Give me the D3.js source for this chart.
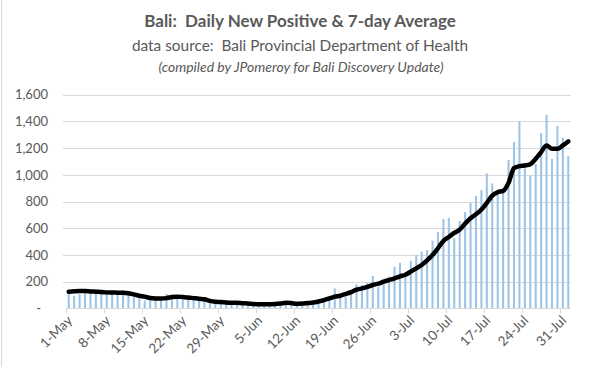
<!DOCTYPE html>
<html lang="en">
<head>
<meta charset="UTF-8">
<title>Bali daily new positive</title>
<style>
  body { margin: 0; background: #fff; }
  svg text { font-family: Lato, "Open Sans", sans-serif; fill: #595959; }
</style>
</head>
<body>
<svg id="chart" width="598" height="367"></svg>
<script src="https://d3js.org/d3.v7.min.js"></script>
<script>
// daily values 1-May .. 1-Aug (2021)
var dailyNew = [
  120, 95, 105, 140, 130, 142, 125, 110, 130, 120,
  135, 115, 105, 100, 60, 70, 80, 75, 108, 75,
  100, 90, 80, 70, 85, 60, 55, 45, 50, 40,
  45, 35, 40, 30, 45, 30, 25, 35, 30, 28,
  45, 50, 30, 35, 40, 30, 55, 60, 88, 150,
  90, 88, 130, 182, 175, 193, 243, 163, 200, 238,
  312, 342, 237, 357, 400, 425, 437, 507, 572, 669,
  676, 525, 654, 721, 788, 841, 886, 1011, 936, 860,
  886, 1111, 1246, 1402, 1049, 991, 1080, 1312, 1450, 1118,
  1366, 1278, 1141
]
var avg7 = [
  125, 128, 130, 130, 127, 125, 123, 120, 119, 118,
  117, 113, 105, 95, 88, 78, 75, 75, 77, 85,
  88, 85, 82, 77, 72, 68, 56, 50, 48, 45,
  43, 42, 39, 37, 33, 31, 31, 31, 33, 37,
  42, 40, 34, 36, 40, 44, 52, 62, 75, 88,
  95, 108, 122, 140, 150, 162, 175, 185, 200, 213,
  225, 240, 252, 275, 300, 325, 360, 400, 450, 505,
  535, 565, 590, 635, 675, 705, 740, 790, 845, 870,
  880, 940, 1050, 1065, 1070, 1080, 1120, 1170, 1220, 1195,
  1195, 1220, 1250
]
var tickLabels = ['1-May', '8-May', '15-May', '22-May', '29-May', '5-Jun', '12-Jun',
  '19-Jun', '26-Jun', '3-Jul', '10-Jul', '17-Jul', '24-Jul', '31-Jul']
var yTicks = [0, 200, 400, 600, 800, 1000, 1200, 1400, 1600]

function render () {
  var days = d3.timeDay.range(new Date(2021, 4, 1), new Date(2021, 7, 2))
  var fmtDay = d3.timeFormat('%-d-%b')

  var svg = d3.select('#chart')
  var left = 66, right = 571, plotTop = 94.7, bottom = 308.4

  // chart border on the left
  svg.append('line')
    .attr('x1', 1.5).attr('x2', 1.5).attr('y1', 0).attr('y2', 367)
    .style('stroke', '#d9d9d9')

  // titles
  svg.append('text').attr('x', 300).attr('y', 27)
    .attr('text-anchor', 'middle').style('font-size', '17px').style('font-weight', 'bold')
    .attr('xml:space', 'preserve')
    .text('Bali:  Daily New Positive & 7-day Average')
  svg.append('text').attr('x', 300).attr('y', 51)
    .attr('text-anchor', 'middle').style('font-size', '15.4px')
    .attr('xml:space', 'preserve')
    .text('data source:  Bali Provincial Department of Health')
  svg.append('text').attr('x', 301).attr('y', 72)
    .attr('text-anchor', 'middle').style('font-size', '14px').style('font-style', 'italic')
    .text('(compiled by JPomeroy for Bali Discovery Update)')

  var x = d3.scaleBand()
    .domain(days.map(fmtDay))
    .range([left, right])
    .paddingInner(0.62)
    .paddingOuter(0.31)
  var step = x.step()

  var y = d3.scaleLinear().domain([0, 1600]).range([bottom, plotTop])

  // gridlines
  svg.append('g').selectAll('line')
    .data(yTicks.slice(1))
    .join('line')
    .attr('x1', 63).attr('x2', right)
    .attr('y1', d => Math.round(y(d)) + 0.5).attr('y2', d => Math.round(y(d)) + 0.5)
    .style('stroke', '#d9d9d9').style('stroke-width', 1)

  // y axis labels
  var yAxis = svg.append('g')
    .attr('transform', 'translate(63,0)')
    .call(d3.axisLeft(y).tickValues(yTicks).tickSize(0).tickPadding(15)
      .tickFormat(d => d === 0 ? '-' : d3.format(',')(d)))
  yAxis.select('.domain').remove()
  yAxis.selectAll('text').style('font-size', '13px').style('fill', '#595959')
    .style('font-family', 'Lato, "Open Sans", sans-serif')
  yAxis.selectAll('.tick').filter(d => d === 0).select('text').attr('x', -22)

  // bars
  svg.append('g').selectAll('rect')
    .data(dailyNew)
    .join('rect')
    .attr('x', (d, i) => x(fmtDay(days[i])))
    .attr('width', x.bandwidth())
    .attr('y', d => y(d))
    .attr('height', d => bottom - y(d))
    .style('fill', '#9dc3e6')

  // x axis line and ticks
  var xg = svg.append('g')
  xg.append('line')
    .attr('x1', left).attr('x2', right)
    .attr('y1', Math.round(bottom) + 0.5).attr('y2', Math.round(bottom) + 0.5)
    .style('stroke', '#d9d9d9')
  var tickIdx = tickLabels.map(l => days.findIndex(d => fmtDay(d) === l))
  xg.selectAll('line.tk')
    .data(tickIdx)
    .join('line')
    .attr('class', 'tk')
    .attr('x1', i => Math.round(left + i * step) + 0.5)
    .attr('x2', i => Math.round(left + i * step) + 0.5)
    .attr('y1', bottom).attr('y2', bottom + 5)
    .style('stroke', '#d9d9d9')
  xg.selectAll('text')
    .data(tickLabels)
    .join('text')
    .attr('transform', l => 'translate(' + (x(l) + x.bandwidth() / 2 + 1) + ',318) rotate(-45)')
    .attr('text-anchor', 'end')
    .attr('dy', '0.35em')
    .style('font-size', '13.5px')
    .text(l => l)

  // 7-day average line
  var line = d3.line()
    .x((d, i) => x(fmtDay(days[i])) + x.bandwidth() / 2)
    .y(d => y(d))
    .curve(d3.curveMonotoneX)
  svg.append('path')
    .datum(avg7)
    .attr('d', line)
    .style('fill', 'none')
    .style('stroke', '#000')
    .style('stroke-width', 4.5)
    .style('stroke-linejoin', 'round')
    .style('stroke-linecap', 'round')
}
render()
</script>
</body>
</html>
